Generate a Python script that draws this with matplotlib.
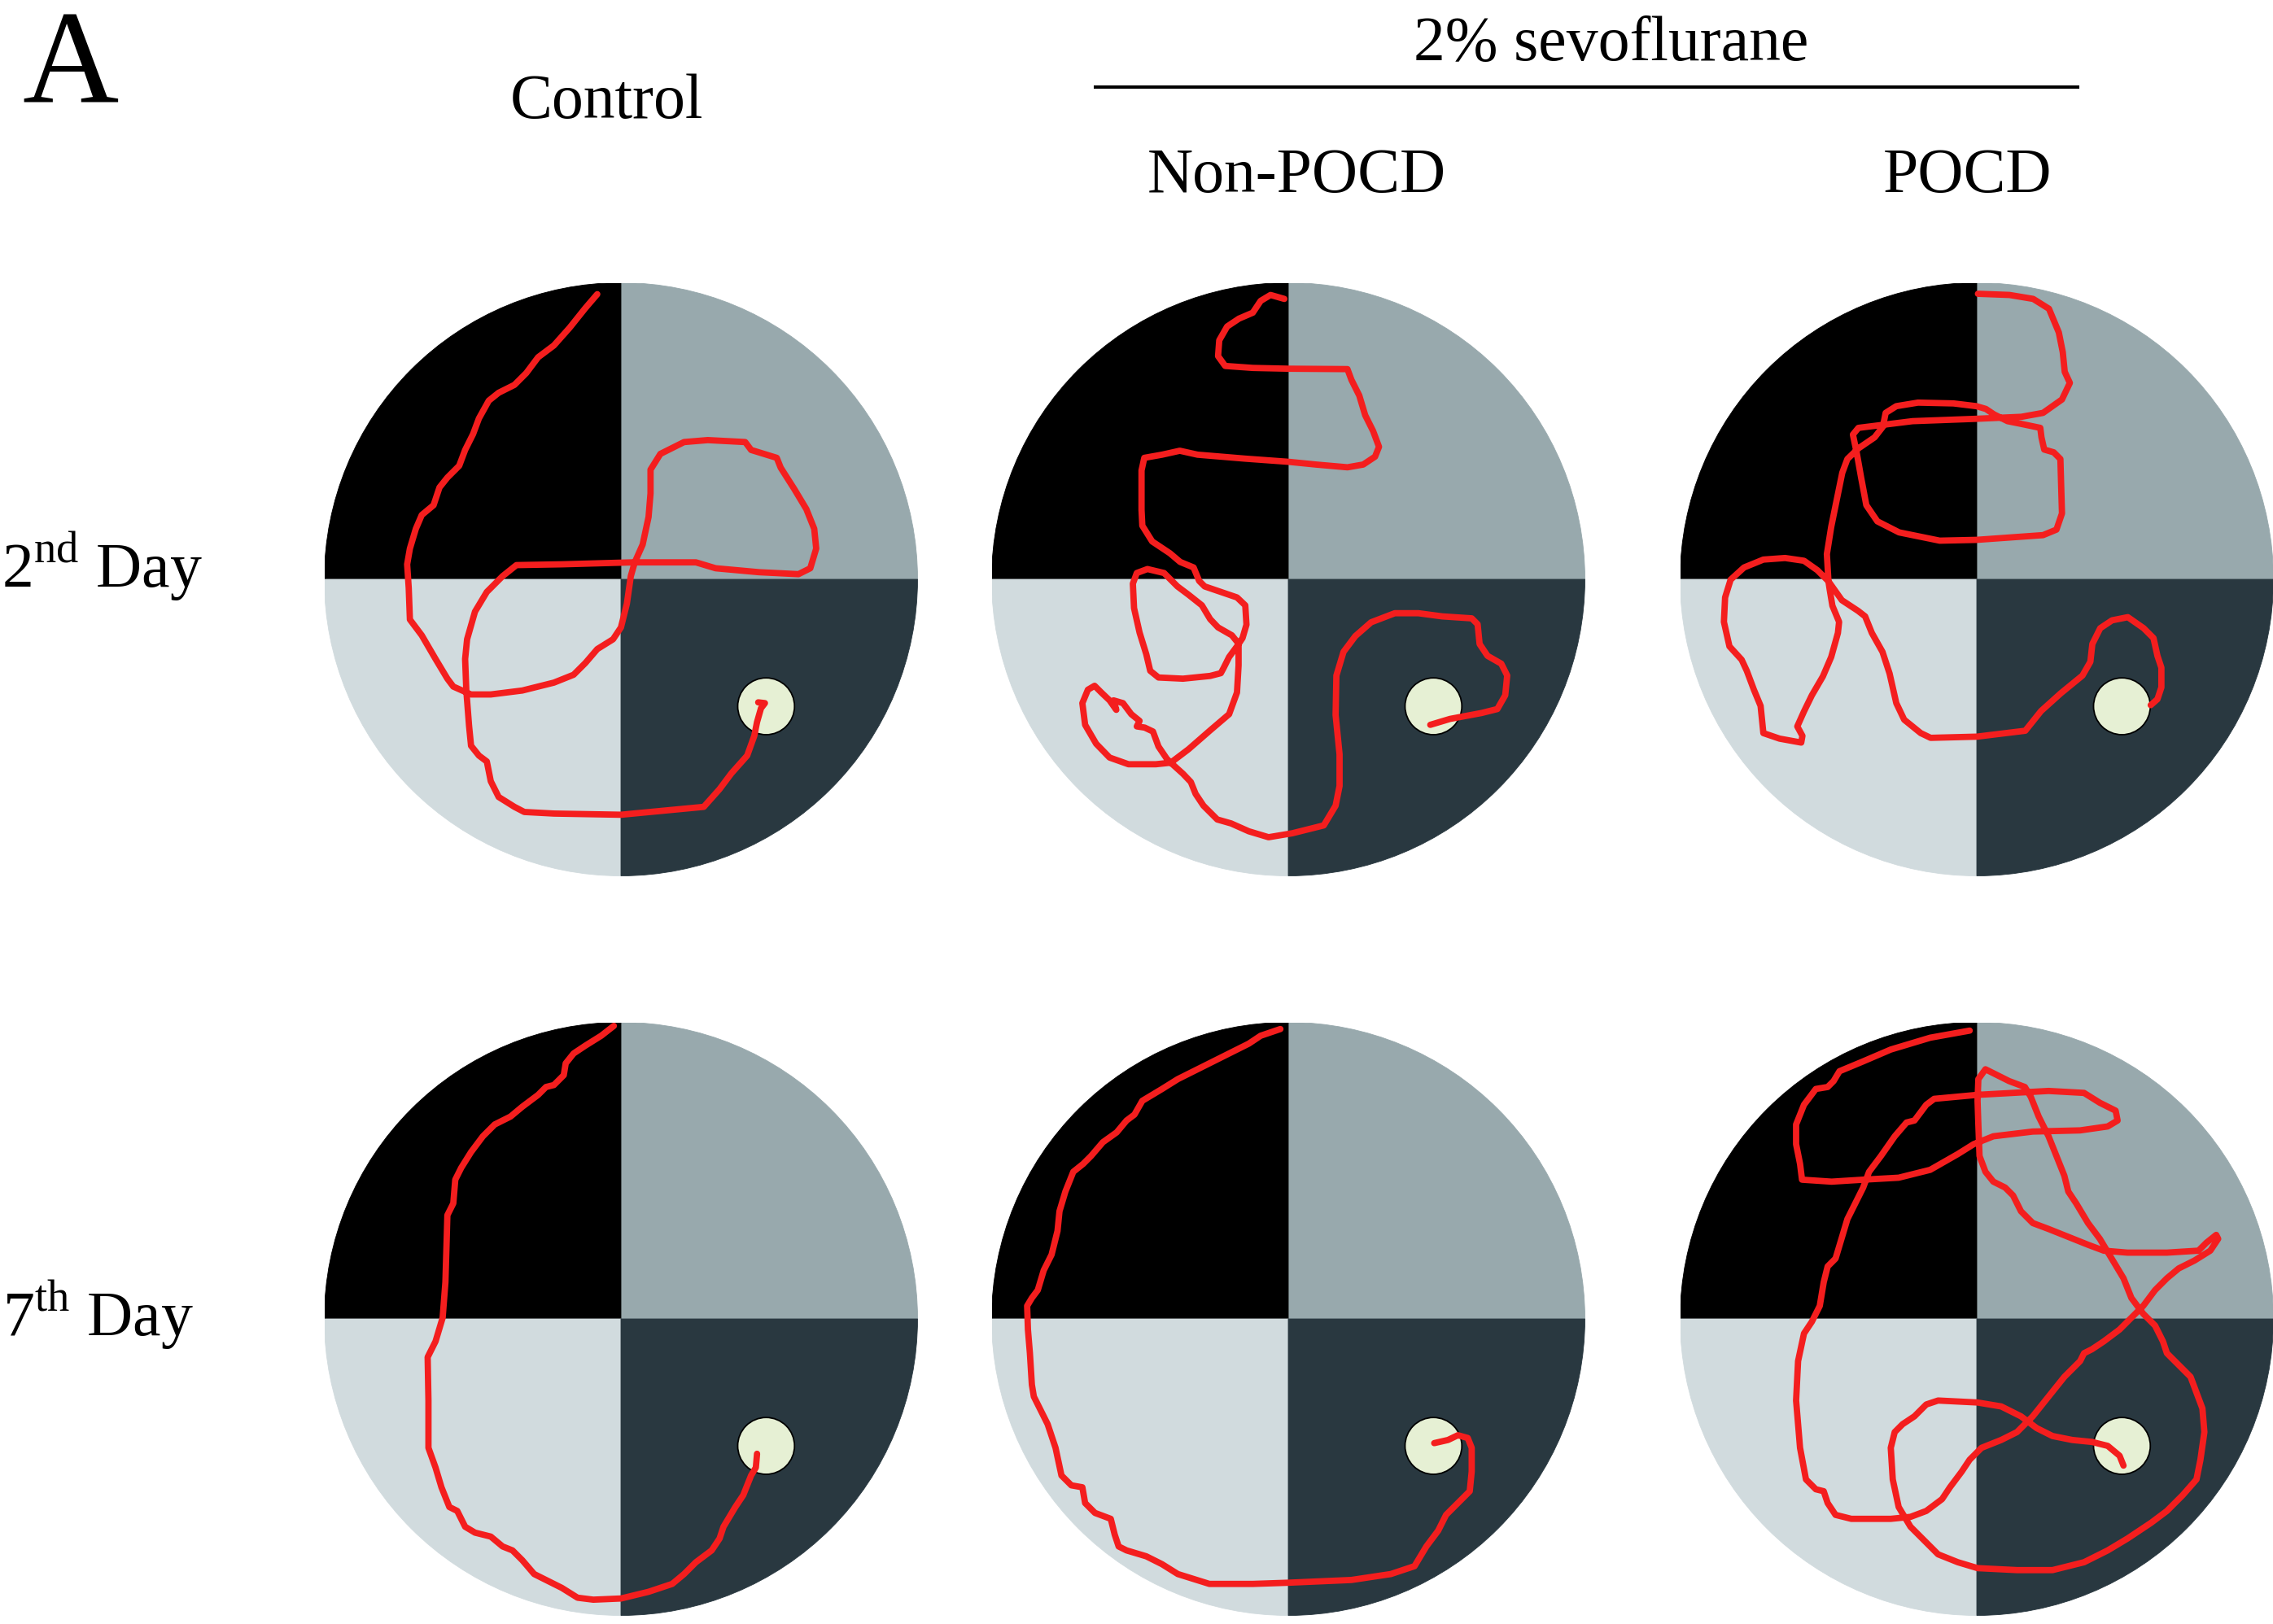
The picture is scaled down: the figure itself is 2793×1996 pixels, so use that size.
import numpy as np
import matplotlib.pyplot as plt
from matplotlib.patches import Wedge, Circle
from matplotlib.lines import Line2D

plt.rcParams['font.family'] = ['Liberation Serif', 'DejaVu Serif']
plt.rcParams['mathtext.fontset'] = 'custom'
plt.rcParams['mathtext.rm'] = 'Liberation Serif'

# Pool geometry in tracker units, pool centre at (0, 0)
POOL_R = 752
PLATFORM = (368, -322)
PLATFORM_R = 72

GROUPS = ["Control", "Non-POCD", "POCD"]
DAYS = ["2$^{\\mathrm{nd}}$ Day", "7$^{\\mathrm{th}}$ Day"]
ANAESTHETIC = "2% sevoflurane"

# Swim paths (x, y) from release point (north) to the platform
CONTROL_D2 = [
    (-60, 723), (-90, 688), (-130, 638), (-170, 593), (-210, 563), (-240, 523),
    (-270, 493), (-310, 473), (-335, 453), (-360, 408), (-375, 368), (-395, 328),
    (-410, 288), (-440, 258), (-460, 233), (-475, 188), (-505, 163), (-520, 128),
    (-535, 78), (-542, 38), (-538, -22), (-535, -102), (-505, -142), (-470, -202),
    (-440, -252), (-425, -272), (-380, -292), (-330, -292), (-250, -282),
    (-170, -262), (-120, -242), (-90, -212), (-60, -177), (-20, -152), (0, -122),
    (15, -62), (25, 8), (35, 43), (55, 88), (70, 158), (75, 218), (75, 278),
    (100, 318), (160, 348), (220, 353), (315, 348), (330, 328), (395, 308),
    (405, 283), (440, 228), (470, 178), (490, 128), (495, 78), (480, 28),
    (450, 13), (350, 18), (240, 28), (190, 43), (30, 43), (-150, 38), (-265, 36),
    (-300, 8), (-340, -32), (-370, -82), (-390, -152), (-395, -202), (-392, -282),
    (-385, -372), (-380, -422), (-360, -447), (-340, -462), (-330, -512),
    (-310, -552), (-270, -577), (-245, -590), (-170, -594), (0, -597), (210, -577),
    (250, -532), (280, -492), (320, -447), (338, -397), (345, -362), (355, -327),
    (365, -314), (348, -312),
]

NONPOCD_D2 = [
    (-10, 711), (-45, 721), (-70, 706), (-90, 676), (-125, 661), (-155, 641),
    (-175, 606), (-178, 566), (-160, 541), (-90, 536), (0, 534), (150, 533),
    (160, 506), (180, 466), (195, 416), (215, 376), (230, 336), (220, 311),
    (190, 291), (150, 284), (70, 291), (0, 298), (-110, 306), (-230, 316),
    (-275, 326), (-320, 316), (-365, 308), (-372, 276), (-372, 176), (-370, 136),
    (-345, 96), (-300, 66), (-274, 44), (-240, 30), (-226, -4), (-212, -18),
    (-171, -32), (-130, -46), (-109, -66), (-106, -115), (-116, -149), (-130, -170),
    (-150, -197), (-164, -225), (-171, -238), (-198, -245), (-267, -252),
    (-329, -249), (-350, -232), (-360, -190), (-377, -135), (-391, -73),
    (-394, -11), (-384, 16), (-357, 26), (-315, 16), (-281, -18), (-253, -39),
    (-219, -66), (-198, -101), (-178, -122), (-143, -142), (-126, -163),
    (-126, -218), (-130, -287), (-150, -342), (-198, -383), (-253, -431),
    (-298, -465), (-336, -469), (-405, -469), (-453, -452), (-487, -417),
    (-515, -369), (-522, -314), (-508, -280), (-491, -270), (-474, -287),
    (-453, -307), (-436, -331), (-443, -307), (-419, -314), (-398, -342),
    (-377, -359), (-384, -373), (-364, -376), (-343, -386), (-329, -424),
    (-308, -455), (-298, -465), (-267, -493), (-247, -514), (-235, -544),
    (-215, -574), (-180, -609), (-145, -619), (-100, -639), (-50, -654),
    (10, -644), (90, -624), (120, -574), (130, -524), (130, -444), (120, -344),
    (122, -244), (140, -184), (170, -144), (210, -109), (270, -86), (330, -86),
    (390, -94), (465, -99), (480, -114), (485, -164), (505, -194), (540, -214),
    (555, -244), (550, -294), (530, -329), (490, -339), (410, -354), (360, -369),
]

POCD_D2 = [
    (3, 724), (83, 721), (143, 711), (183, 686), (208, 626), (218, 576),
    (223, 526), (236, 498), (216, 456), (168, 422), (113, 412), (44, 409),
    (-1, 407), (-163, 401), (-300, 384), (-314, 367), (-304, 319), (-293, 257),
    (-280, 188), (-252, 147), (-197, 119), (-94, 98), (-1, 100), (168, 112),
    (202, 126), (216, 167), (212, 305), (195, 322), (171, 329), (164, 360),
    (161, 384), (113, 394), (78, 401), (44, 418), (23, 432), (-1, 439),
    (-59, 446), (-149, 448), (-204, 439), (-231, 422), (-238, 387), (-259, 360),
    (-300, 332), (-328, 305), (-341, 270), (-369, 133), (-380, 64), (-376, -5),
    (-373, -25), (-366, -67), (-349, -108), (-352, -136), (-369, -197),
    (-390, -246), (-418, -294), (-438, -335), (-455, -373), (-442, -397),
    (-445, -414), (-500, -404), (-541, -390), (-548, -321), (-565, -280),
    (-583, -232), (-596, -204), (-627, -170), (-641, -108), (-638, -46),
    (-624, -1), (-590, 30), (-541, 50), (-486, 54), (-438, 47), (-404, 23),
    (-376, -5), (-342, -53), (-301, -80), (-283, -94), (-266, -136), (-239, -184),
    (-221, -239), (-204, -314), (-184, -356), (-142, -390), (-117, -402),
    (0, -399), (123, -384), (163, -334), (213, -289), (268, -244), (288, -209),
    (293, -164), (313, -124), (343, -104), (383, -96), (423, -124), (448, -149),
    (458, -194), (468, -224), (468, -274), (458, -304), (441, -319),
]

CONTROL_D7 = [
    (-18, 743), (-50, 718), (-90, 693), (-120, 673), (-140, 648), (-145, 618),
    (-170, 593), (-190, 588), (-210, 568), (-230, 553), (-250, 538), (-280, 513),
    (-320, 493), (-350, 463), (-380, 423), (-405, 383), (-420, 353), (-425, 293),
    (-440, 263), (-442, 193), (-445, 93), (-452, 3), (-470, -57), (-490, -97),
    (-488, -207), (-488, -327), (-470, -377), (-455, -427), (-435, -477),
    (-415, -487), (-395, -527), (-370, -542), (-330, -552), (-300, -577),
    (-275, -587), (-250, -612), (-220, -647), (-190, -662), (-150, -682),
    (-110, -707), (-70, -712), (0, -709), (70, -692), (130, -672), (160, -647),
    (190, -617), (230, -587), (250, -557), (260, -527), (290, -477), (310, -447),
    (330, -397), (342, -377), (345, -342),
]

NONPOCD_D7 = [
    (-20, 735), (-70, 718), (-100, 698), (-150, 673), (-200, 648), (-250, 623),
    (-280, 608), (-320, 583), (-370, 553), (-390, 518), (-410, 503), (-435, 473),
    (-470, 448), (-500, 413), (-520, 393), (-545, 373), (-565, 323), (-580, 273),
    (-585, 223), (-600, 163), (-620, 123), (-635, 73), (-650, 53), (-662, 33),
    (-660, -27), (-655, -87), (-650, -167), (-645, -197), (-630, -227),
    (-610, -267), (-590, -327), (-575, -397), (-550, -422), (-522, -427),
    (-515, -467), (-490, -492), (-450, -507), (-440, -547), (-430, -577),
    (-410, -587), (-360, -602), (-320, -622), (-280, -647), (-200, -672),
    (-90, -672), (0, -669), (160, -662), (260, -647), (320, -627), (350, -577),
    (380, -537), (400, -497), (425, -472), (460, -437), (465, -387), (465, -327),
    (455, -302), (430, -295), (405, -307), (370, -315),
]

POCD_D7 = [
    (-18, 731), (-118, 713), (-218, 683), (-288, 653), (-348, 628), (-363, 603),
    (-378, 588), (-408, 583), (-438, 543), (-458, 493), (-458, 443), (-448, 393),
    (-443, 353), (-368, 348), (-288, 353), (-198, 358), (-118, 378), (-48, 418),
    (-8, 443), (42, 463), (142, 475), (262, 478), (332, 488), (357, 503),
    (352, 528), (312, 548), (272, 573), (182, 578), (0, 568), (-108, 558),
    (-128, 543), (-158, 503), (-178, 498), (-208, 463), (-243, 413), (-273, 373),
    (-288, 333), (-308, 293), (-328, 253), (-343, 203), (-358, 153), (-378, 133),
    (-388, 93), (-398, 33), (-418, -7), (-438, -37), (-453, -107), (-458, -207),
    (-448, -327), (-433, -407), (-408, -432), (-388, -437), (-378, -467),
    (-358, -497), (-318, -507), (-218, -507), (-168, -502), (-128, -487),
    (-88, -457), (-68, -427), (-38, -387), (-18, -357), (12, -327), (62, -307),
    (102, -287), (142, -247), (182, -197), (222, -147), (262, -107), (272, -87),
    (292, -77), (322, -57), (362, -27), (392, 3), (422, 33), (452, 73),
    (482, 103), (512, 128), (552, 148), (592, 173), (612, 203), (607, 213),
    (582, 193), (562, 173), (482, 168), (382, 168), (322, 173), (282, 188),
    (232, 208), (182, 228), (142, 243), (112, 273), (92, 313), (72, 333),
    (42, 348), (22, 373), (7, 413), (4, 493), (2, 553), (4, 608), (22, 633),
    (52, 618), (82, 603), (122, 588), (137, 563), (157, 513), (182, 463),
    (202, 413), (222, 363), (232, 323), (252, 293), (282, 243), (312, 203),
    (342, 153), (372, 103), (392, 53), (422, 13), (452, -17), (472, -57),
    (482, -87), (512, -117), (542, -147), (557, -187), (572, -227), (577, -287),
    (567, -357), (557, -407), (522, -447), (482, -487), (442, -517), (382, -557),
    (332, -587), (272, -617), (192, -637), (102, -637), (2, -632), (-48, -617),
    (-98, -597), (-128, -567), (-168, -527), (-198, -477), (-213, -407),
    (-218, -327), (-208, -287), (-188, -267), (-158, -247), (-128, -217),
    (-98, -207), (2, -212), (62, -222), (112, -247), (152, -277), (192, -297),
    (242, -307), (292, -312), (332, -322), (362, -347), (372, -372),
]

TRACKS = [
    [CONTROL_D2, NONPOCD_D2, POCD_D2],
    [CONTROL_D7, NONPOCD_D7, POCD_D7],
]

# quadrant colours, keyed by wedge start angle
QUADRANTS = [(0, '#98a9ad'), (90, '#000000'), (180, '#d1dbde'), (270, '#293840')]
TRACK_COLOR = '#f41e1e'

W, H = 2793, 1996
fig = plt.figure(figsize=(W / 100, H / 100), dpi=100)

col_x = [763, 1583, 2429]
row_y = [712, 1621]
r_px = 364.5


def draw_pool(ax, track):
    for start, color in QUADRANTS:
        ax.add_patch(Wedge((0, 0), POOL_R, start, start + 90,
                           facecolor=color, edgecolor=color, lw=0.6))
    ax.add_patch(Circle(PLATFORM, PLATFORM_R, facecolor='#e6f0d4',
                        edgecolor='black', lw=1.3, zorder=3))
    t = np.array(track)
    ax.plot(t[:, 0], t[:, 1], color=TRACK_COLOR, lw=5.6,
            solid_joinstyle='round', solid_capstyle='round', zorder=4,
            clip_on=False)
    ax.set_xlim(-POOL_R, POOL_R)
    ax.set_ylim(-POOL_R, POOL_R)
    ax.axis('off')


for i, cy in enumerate(row_y):
    for j, cx in enumerate(col_x):
        ax = fig.add_axes([(cx - r_px) / W, 1 - (cy + r_px) / H,
                           2 * r_px / W, 2 * r_px / H])
        draw_pool(ax, TRACKS[i][j])


def px_text(x, y, s, **kw):
    fig.text(x / W, 1 - y / H, s, va='baseline', **kw)


px_text(27, 125, "A", fontsize=118)
px_text(745, 145, GROUPS[0], fontsize=56, ha='center')
px_text(1980, 74, ANAESTHETIC, fontsize=56, ha='center')
px_text(1593, 236, GROUPS[1], fontsize=56, ha='center')
px_text(2418, 236, GROUPS[2], fontsize=56, ha='center')
px_text(2, 722, DAYS[0], fontsize=56)
px_text(3, 1642, DAYS[1], fontsize=56)

fig.add_artist(Line2D([1346 / W, 2553 / W], [1 - 107 / H, 1 - 107 / H],
                      color='black', lw=2.9))

fig.savefig('out.png', dpi=100, facecolor='white')
